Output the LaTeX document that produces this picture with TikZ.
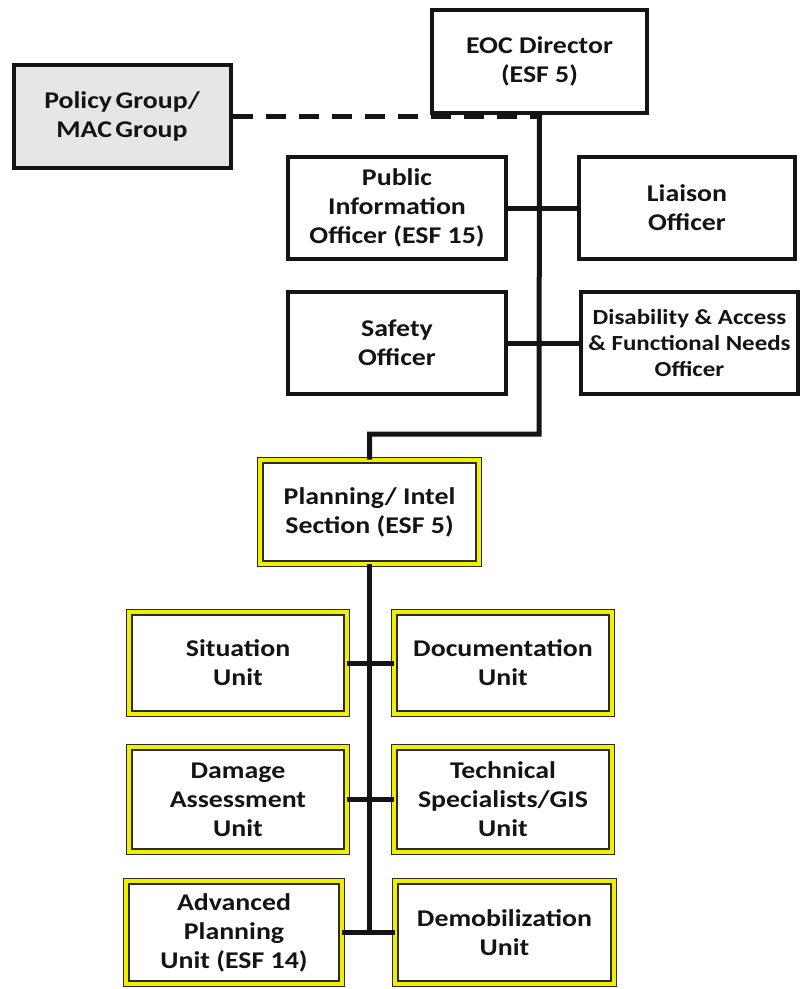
\documentclass[tikz,border=0pt]{standalone}
\usepackage{fontspec}
\setmainfont{Carlito}[FakeStretch=1.16]
\definecolor{unityellow}{HTML}{F2EE00}
\definecolor{policygray}{HTML}{E6E6E6}
\definecolor{inkblack}{HTML}{141414}
\begin{document}
\begin{tikzpicture}[x=1pt,y=-1pt,
  box/.style={draw=inkblack, line width=4pt, fill=white, align=center,
    inner sep=0pt, text=inkblack,
    font=\fontsize{24}{29}\selectfont\bfseries},
  smalltext/.style={font=\fontsize{21.5}{26}\selectfont\bfseries},
  policybox/.style={box, fill=policygray},
  unitbox/.style={box, draw=inkblack!90, line width=1.3pt,
    double=unityellow, double distance=4pt},
  link/.style={draw=inkblack, line width=5pt},
  dottedlink/.style={draw=inkblack, line width=5pt, dash pattern=on 20pt off 13pt}]

  % canvas
  \fill[white] (0,0) rectangle (806,989);
  \useasboundingbox (0,0) rectangle (806,989);

  % command staff
  \node[box, minimum width=215, minimum height=103] (eoc) at (539.5,61.5)
    {EOC Director\\(ESF 5)};
  \node[policybox, minimum width=217, minimum height=103] (policy) at (122,116)
    {Policy\hspace{3.5pt}Group/\\MAC\hspace{3.5pt}Group};
  \node[box, minimum width=218, minimum height=102] (pio) at (397,208)
    {Public\\Information\\Officer (ESF 15)};
  \node[box, minimum width=216, minimum height=102] (liaison) at (687,208)
    {Liaison\\Officer};
  \node[box, minimum width=218, minimum height=102] (safety) at (397,343)
    {Safety\\Officer};
  \node[box, smalltext, minimum width=217, minimum height=102] (dafn) at (689.5,343)
    {Disability \& Access\\\& Functional Needs\\Officer};

  % planning section and units
  \node[unitbox, minimum width=218.4, minimum height=103.4] (planning) at (369.5,512)
    {Planning/ Intel\\Section (ESF 5)};
  \node[unitbox, minimum width=217.4, minimum height=101.4] (situation) at (238,663)
    {Situation\\Unit};
  \node[unitbox, minimum width=217.4, minimum height=101.4] (documentation) at (503,663)
    {Documentation\\Unit};
  \node[unitbox, minimum width=217.4, minimum height=104.4] (damage) at (238,799.5)
    {Damage\\Assessment\\Unit};
  \node[unitbox, minimum width=217.4, minimum height=104.4] (technical) at (503,799.5)
    {Technical\\Specialists/GIS\\Unit};
  \node[unitbox, minimum width=215.4, minimum height=102.4] (advanced) at (234,932.5)
    {Advanced\\Planning\\Unit (ESF 14)};
  \node[unitbox, minimum width=218.4, minimum height=102.4] (demob) at (504.5,932.5)
    {Demobilization\\Unit};

  % connectors
  \coordinate (elbow) at (539,434);
  \draw[dottedlink] (policy.east) -- (policy.east -| eoc.south);
  \draw[link] (eoc.south) -- (elbow) -| (planning.north);
  \draw[link] (pio.east) -- (liaison.west);
  \draw[link] (safety.east) -- (dafn.west);
  \draw[link] (planning.south) -- (planning.south |- advanced.east);
  \draw[link] (situation.east) -- (documentation.west);
  \draw[link] (damage.east) -- (technical.west);
  \draw[link] (advanced.east) -- (demob.west);
\end{tikzpicture}
\end{document}
